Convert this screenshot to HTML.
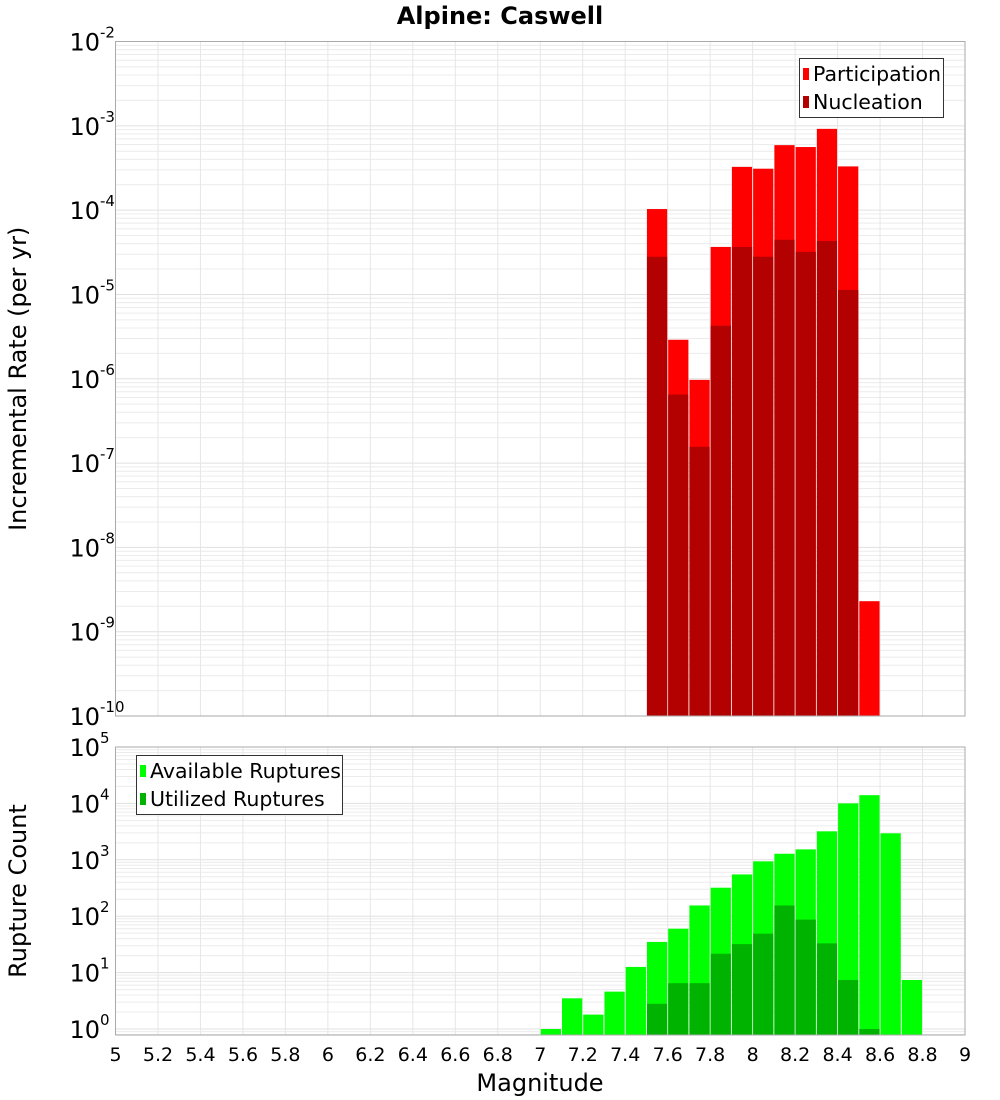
<!DOCTYPE html>
<html><head><meta charset="utf-8">
<style>
html,body{margin:0;padding:0;background:#fff;}
svg{display:block;font-family:"DejaVu Sans","Liberation Sans",sans-serif;}
</style></head>
<body>
<svg id="chart" width="1000" height="1100" viewBox="0 0 1000 1100" xmlns="http://www.w3.org/2000/svg">
<text x="500" y="24" text-anchor="middle" font-size="24" font-weight="bold">Alpine: Caswell</text>
<g id="top"></g>
<g id="bot"></g>
</svg>
<script>
// ---- data ----
const binCenters = [7.05,7.15,7.25,7.35,7.45,7.55,7.65,7.75,7.85,7.95,8.05,8.15,8.25,8.35,8.45,8.55,8.65,8.75];
const participation = [0,0,0,0,0,1.03e-4,2.9e-6,9.7e-7,3.66e-5,3.26e-4,3.1e-4,5.9e-4,5.6e-4,9.2e-4,3.3e-4,2.3e-9,0,0];
const nucleation    = [0,0,0,0,0,2.8e-5,6.5e-7,1.56e-7,4.26e-6,3.66e-5,2.8e-5,4.45e-5,3.2e-5,4.3e-5,1.13e-5,0,0,0];
const available = [1,3.5,1.8,4.6,12.6,35,60,155,320,550,940,1280,1530,3200,10000,14000,2950,7.4];
const utilized  = [0,0,0,0,0,2.8,6.5,6.5,21.6,32,49,155,87,33,7.4,1,0,0];
const xTicks = [5,5.2,5.4,5.6,5.8,6,6.2,6.4,6.6,6.8,7,7.2,7.4,7.6,7.8,8,8.2,8.4,8.6,8.8,9];
const topDecades = [-2,-3,-4,-5,-6,-7,-8,-9,-10];
const botDecades = [5,4,3,2,1,0];

const NS = "http://www.w3.org/2000/svg";
const L = 115.5, R = 965;
const xs = m => L + (m - 5) / 4 * (R - L);
function mk(parent, tag, attrs) {
  const e = document.createElementNS(NS, tag);
  for (const k in attrs) e.setAttribute(k, attrs[k]);
  parent.appendChild(e);
  return e;
}

function panel(g, top, bottom, logTop, logBot, decades, s1, s2, c1, c2, ytitle, legend, name) {
  const ys = v => top + (logTop - Math.log10(v)) / (logTop - logBot) * (bottom - top);
  const grid = mk(g, 'g', {});
  
  
  for (let d = Math.floor(logBot); d <= logTop; d++) {
    for (let k = 1; k <= 9; k++) {
      const v = k * Math.pow(10, d);
      const lv = Math.log10(v);
      if (lv < logBot || lv > logTop) continue;
      const y = ys(v);
      mk(grid, 'line', {x1: L, x2: R, y1: y, y2: y, stroke: k === 1 ? '#e0e0e0' : '#ececec', 'stroke-width': 1});
    }
  }
  xTicks.forEach(t => {
    const x = xs(t);
    mk(grid, 'line', {x1: x, x2: x, y1: top, y2: bottom, stroke: '#e6e6e6', 'stroke-width': 1});
  });
  const bw = (xs(5.1) - xs(5)) - 1;
  const bars = mk(g, 'g', {});
  
  
  [[s1, c1, 'a'], [s2, c2, 'b']].forEach(([ser, col, tag]) => {
    ser.forEach((v, i) => {
      if (!(v > 0)) return;
      const x = xs(binCenters[i] - 0.05) + 0.5;
      const y = Math.max(top, ys(v));
      const r = mk(bars, 'rect', {x: x, y: y, width: bw, height: bottom - y, fill: col});
      
      
    });
  });
  const fr = mk(g, 'rect', {x: L, y: top, width: R - L, height: bottom - top, fill: 'none', stroke: '#aaaaaa', 'stroke-width': 1});
  
  
  decades.forEach(d => {
    const y = ys(Math.pow(10, d));
    const t = mk(g, 'text', {x: 100, y: y + 9, 'text-anchor': 'end', 'font-size': 24});
    t.textContent = '10';
    
    
    const s = mk(g, 'text', {x: 100, y: y - 4, 'font-size': 15});
    s.textContent = String(d);
    
    
  });
  const cy = (top + bottom) / 2;
  const yt = mk(g, 'text', {x: 0, y: 0, 'text-anchor': 'middle', 'font-size': 24, transform: `translate(26,${cy}) rotate(-90)`});
  yt.textContent = ytitle;
  
  
  const lg = mk(g, 'g', {});
  
  
  mk(lg, 'rect', {x: legend.x + 0.5, y: legend.y + 0.5, width: legend.w, height: 59, fill: '#fff', stroke: '#333', 'stroke-width': 1});
  legend.items.forEach((it, i) => {
    const yy = legend.y + 10 + i * 28;
    const sw = mk(lg, 'rect', {x: legend.x + 4, y: yy, width: 6, height: 12, fill: it[1]});
    
    
    const tx = mk(lg, 'text', {x: legend.x + 14, y: yy + 13, 'font-size': 20.5});
    tx.textContent = it[0];
    
    
  });
}

panel(document.getElementById('top'), 41.5, 716, -2, -10, topDecades, participation, nucleation,
  '#ff0000', '#b30000', 'Incremental Rate (per yr)',
  {x: 799, y: 58, w: 144, items: [['Participation', '#ff0000'], ['Nucleation', '#b30000']]}, 'rate');
panel(document.getElementById('bot'), 747, 1035, 5, 5 - (1035 - 747) / 56.4, botDecades, available, utilized,
  '#00ff00', '#00b300', 'Rupture Count',
  {x: 136, y: 755, w: 206, items: [['Available Ruptures', '#00ff00'], ['Utilized Ruptures', '#00b300']]}, 'count');

const svg = document.getElementById('chart');
xTicks.forEach(t => {
  const tx = mk(svg, 'text', {x: xs(t), y: 1061, 'text-anchor': 'middle', 'font-size': 19});
  tx.textContent = String(t);
  
  
});
const xt = mk(svg, 'text', {x: 540, y: 1091, 'text-anchor': 'middle', 'font-size': 24});
xt.textContent = 'Magnitude';


</script>
</body></html>
